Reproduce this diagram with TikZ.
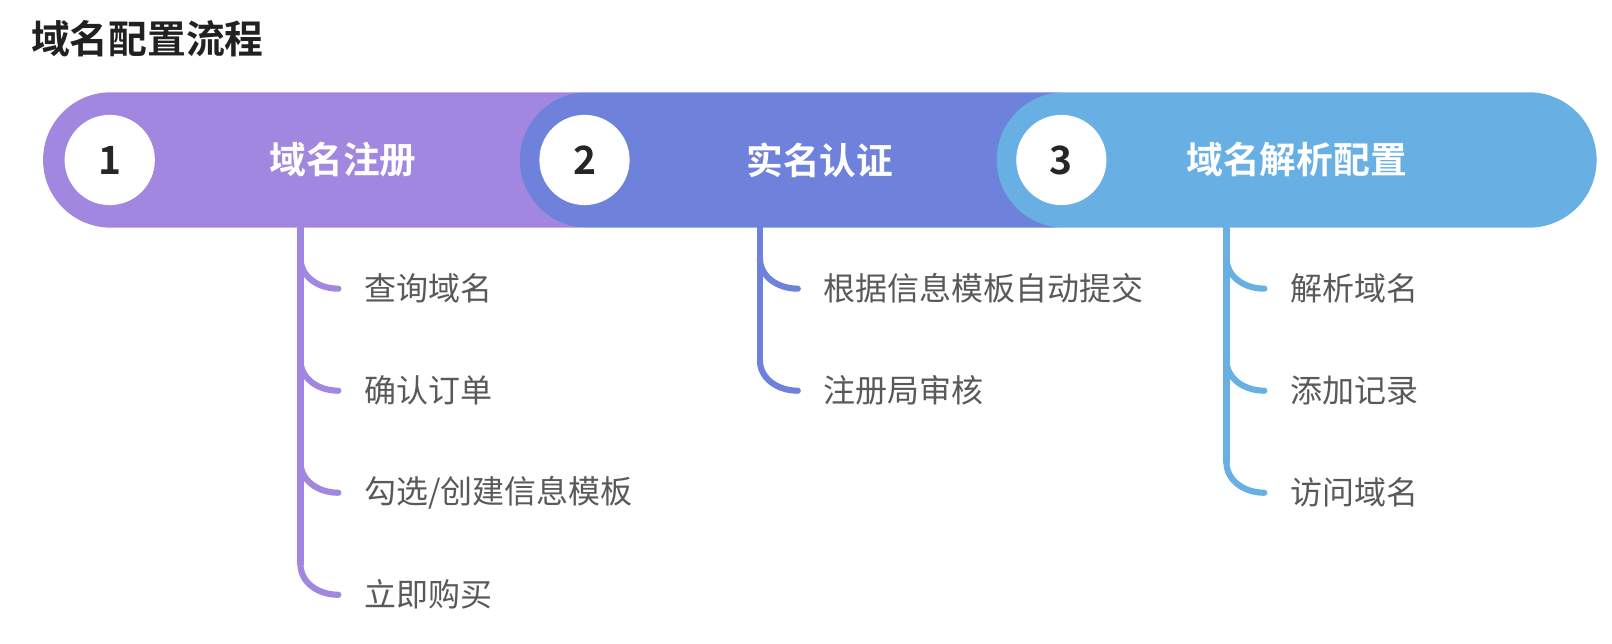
\documentclass[tikz,border=0pt]{standalone}
\usepackage{fontspec}
\setmainfont{Noto Sans CJK SC}[BoldFont={Noto Sans CJK SC Bold}]
\usepackage{xcolor}
\usetikzlibrary{shapes, positioning, calc}
\definecolor{cone}{HTML}{A187E0}
\definecolor{ctwo}{HTML}{6F82DB}
\definecolor{cthree}{HTML}{68B0E4}
\definecolor{itemgray}{HTML}{595959}
\tikzstyle{pill} = [rounded rectangle, minimum width=292.5pt, minimum height=66pt, inner sep=0pt, text=white, font=\fontsize{17.9}{20}\selectfont\bfseries]
\tikzstyle{num} = [circle, fill=white, minimum size=44pt, inner sep=0pt, text=black!85, font=\fontsize{19}{22}\selectfont\bfseries]
\tikzstyle{item} = [anchor=west, inner sep=0pt, text=itemgray, font=\fontsize{15.6}{18}\selectfont]
\tikzstyle{twig} = [draw, line width=3pt, line cap=round]

\begin{document}
\begin{tikzpicture}[x=0.5pt, y=-0.5pt]
    \useasboundingbox (0,0) rectangle (1572,628);
    % Title
    \node [anchor=west, inner sep=0pt, text=black!87, font=\fontsize{18.9}{22}\selectfont\bfseries] (title) at (30,38) {域名配置流程};

    % Nodes
    \node [pill, fill=cone] (p1) at (334.5,156) {域名注册};
    \node [num] (n1) at (107,156) {1};
    \node [pill, fill=ctwo, right of=p1, node distance=232.5pt] (p2) {实名认证};
    \node [num] (n2) at (570,156) {2};
    \node [pill, fill=cthree, right of=p2, node distance=232.5pt] (p3) {域名解析配置};
    \node [num] (n3) at (1035,156) {3};

    \coordinate (s1) at (293,222);
    \coordinate (s2) at (741,222);
    \coordinate (s3) at (1196,222);

    % Lines
    \foreach \t [count=\i] in {查询域名, 确认订单, 勾选/创建信息模板, 立即购买} {
        \node [item] (a\i) at (355,182+99.5*\i) {\t};
        \path [twig, cone] ($(a\i.west)+(-62,-30)$) .. controls +(0,18) and +(-20,0) .. ($(a\i.west)+(-25,0)$);
    }
    \path [twig, cone] (s1) -- ($(a4.west)+(-62,-30)$);

    \foreach \t [count=\i] in {根据信息模板自动提交, 注册局审核} {
        \node [item] (b\i) at (803,182+99.5*\i) {\t};
        \path [twig, ctwo] ($(b\i.west)+(-62,-30)$) .. controls +(0,18) and +(-20,0) .. ($(b\i.west)+(-25,0)$);
    }
    \path [twig, ctwo] (s2) -- ($(b2.west)+(-62,-30)$);

    \foreach \t [count=\i] in {解析域名, 添加记录, 访问域名} {
        \node [item] (c\i) at (1258,182+99.5*\i) {\t};
        \path [twig, cthree] ($(c\i.west)+(-62,-30)$) .. controls +(0,18) and +(-20,0) .. ($(c\i.west)+(-25,0)$);
    }
    \path [twig, cthree] (s3) -- ($(c3.west)+(-62,-30)$);

\end{tikzpicture}
\end{document}
